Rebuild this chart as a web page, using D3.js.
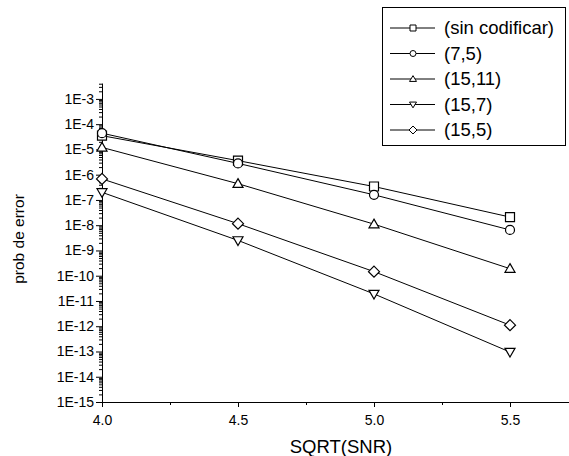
<!DOCTYPE html>
<html><head><meta charset="utf-8">
<script src="https://cdn.jsdelivr.net/npm/d3@7"></script>
<style>body{margin:0;background:#fff}svg{display:block}text{font-family:"Liberation Sans",Arial,sans-serif;fill:#000}</style>
</head><body><div id="c"></div>
<script>
const xValues = [4.0, 4.5, 5.0, 5.5];
const seriesNames = ["(sin codificar)", "(7,5)", "(15,11)", "(15,7)", "(15,5)"];
const sinCodificar = [3.5e-5, 3.6e-6, 3.4e-7, 2.1e-8];
const code7_5 = [4.4e-5, 2.8e-6, 1.6e-7, 6.5e-9];
const code15_11 = [1.2e-5, 4.4e-7, 1.1e-8, 1.9e-10];
const code15_7 = [2.0e-7, 2.5e-9, 1.9e-11, 9.5e-14];
const code15_5 = [6.8e-7, 1.15e-8, 1.45e-10, 1.1e-12];
const markers = ["square", "circle", "triangle", "triangleDown", "diamond"];
const xTickLabels = ["4.0", "4.5", "5.0", "5.5"];
const yTickExponents = [-15,-14,-13,-12,-11,-10,-9,-8,-7,-6,-5,-4,-3];
const xTitle = "SQRT(SNR)", yTitle = "prob de error";

const W = 569, H = 456;
const svg = d3.select("#c").append("svg").attr("width", W).attr("height", H);
const x = d3.scaleLinear().domain([4, 5.75]).range([102, 578]);
const y = d3.scaleLog().domain([1e-15, Math.pow(10, -2.37)]).range([402, 83]);
const series = [sinCodificar, code7_5, code15_11, code15_7, code15_5];

function markerPath(type, s) {
  const p = d3.path();
  if (type === "square") { p.rect(-s/2, -s/2, s, s); }
  else if (type === "circle") { p.arc(0, 0, s/2, 0, 2*Math.PI); }
  else if (type === "triangle") { const h = s*0.9; p.moveTo(0, -h*0.62); p.lineTo(s/2+0.5, h*0.45); p.lineTo(-s/2-0.5, h*0.45); p.closePath(); }
  else if (type === "triangleDown") { const h = s*0.9; p.moveTo(0, h*0.62); p.lineTo(s/2+0.5, -h*0.45); p.lineTo(-s/2-0.5, -h*0.45); p.closePath(); }
  else if (type === "diamond") { const r = s/2+1; p.moveTo(0,-r); p.lineTo(r,0); p.lineTo(0,r); p.lineTo(-r,0); p.closePath(); }
  return p.toString();
}

// axes
const xAxis = d3.axisBottom(x).tickValues(xValues).tickFormat((d,i)=>xTickLabels[i]).tickSize(5).tickSizeOuter(0);
const gx = svg.append("g").attr("transform","translate(0,402)").call(xAxis);
gx.select(".domain").attr("stroke","#000");
gx.selectAll("text").attr("font-size",14).attr("font-family","Liberation Sans, Arial, sans-serif").attr("dy","1.05em");
const gxm = svg.append("g").attr("transform","translate(0,402)").call(d3.axisBottom(x).tickValues([4.25,4.75,5.25]).tickFormat("").tickSize(3).tickSizeOuter(0));
gxm.select(".domain").remove();

const yMajor = yTickExponents.map(e => Math.pow(10, e));
const yAxis = d3.axisLeft(y).tickValues(yMajor).tickFormat(d => "1E" + Math.round(Math.log10(d))).tickSize(6).tickSizeOuter(0);
const gy = svg.append("g").attr("transform","translate(102,0)").call(yAxis);
gy.select(".domain").attr("stroke","#000");
gy.selectAll("text").attr("font-size",14).attr("font-family","Liberation Sans, Arial, sans-serif").attr("x",-8);
const minor = [];
yTickExponents.forEach(e => { for (let k=2;k<=9;k++){ const v=k*Math.pow(10,e); if (v<=y.domain()[1]) minor.push(v);} });
const gym = svg.append("g").attr("transform","translate(102,0)").call(d3.axisLeft(y).tickValues(minor).tickFormat("").tickSize(3).tickSizeOuter(0));
gym.select(".domain").remove();

svg.append("text").attr("x", 341).attr("y", 453).attr("text-anchor","middle").attr("font-size",18.5).text(xTitle);
svg.append("text").attr("transform","translate(24,239) rotate(-90)").attr("text-anchor","middle").attr("font-size",15.5).text(yTitle);

// series
const line = d3.line().x((d,i)=>x(xValues[i])).y(d=>y(d));
series.forEach((s, si) => {
  svg.append("path").attr("d", line(s)).attr("fill","none").attr("stroke","#000").attr("stroke-width",1);
  svg.selectAll(null).data(s).enter().append("path")
    .attr("transform",(d,i)=>`translate(${x(xValues[i])},${y(d)})`)
    .attr("d", markerPath(markers[si], 9)).attr("fill","#fff").attr("stroke","#000").attr("stroke-width",1.2);
});

// legend
const lg = svg.append("g");
lg.append("rect").attr("x",382.5).attr("y",7.5).attr("width",183).attr("height",138).attr("fill","#fff").attr("stroke","#000").attr("stroke-width",1);
seriesNames.forEach((n, i) => {
  const cy = 28 + i*25.5;
  lg.append("line").attr("x1",390).attr("x2",435).attr("y1",cy).attr("y2",cy).attr("stroke","#000");
  lg.append("path").attr("transform",`translate(413,${cy})`).attr("d", markerPath(markers[i], 6)).attr("fill","#fff").attr("stroke","#000").attr("stroke-width",1);
  lg.append("text").attr("x",444).attr("y",cy).attr("dy","0.35em").attr("font-size",18.5).text(n);
});
</script></body></html>
